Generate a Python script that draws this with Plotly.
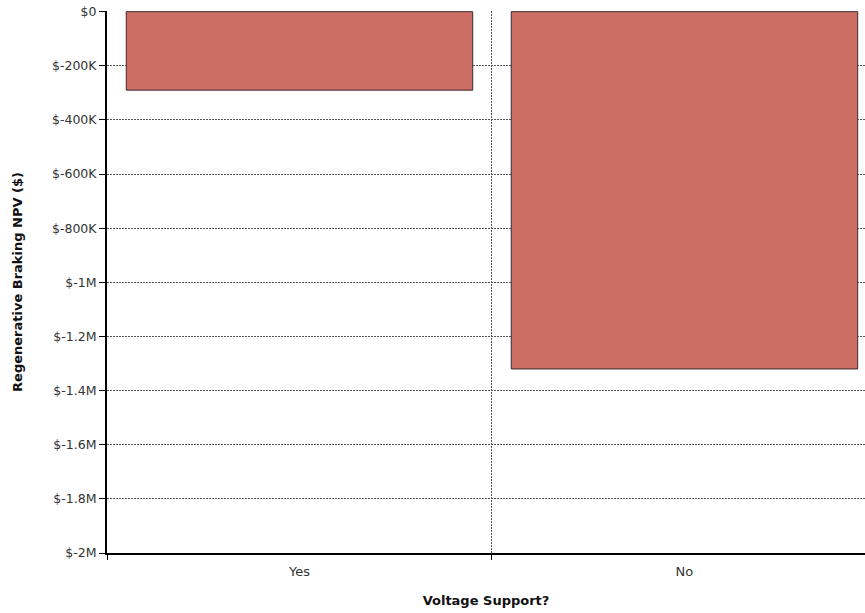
import plotly.graph_objects as go

categories = ["Yes", "No"]
npv_values = [-290000, -1320000]
tick_values = [0, -200000, -400000, -600000, -800000, -1000000, -1200000, -1400000, -1600000, -1800000, -2000000]
tick_labels = ["$0", "$-200K", "$-400K", "$-600K", "$-800K", "$-1M", "$-1.2M", "$-1.4M", "$-1.6M", "$-1.8M", "$-2M"]

grid_dash = "2px,1px"

fig = go.Figure()
fig.add_trace(go.Bar(
    x=categories, y=npv_values, width=0.9,
    marker=dict(color="#CC6E63", line=dict(color="#3a2a2a", width=1)),
    showlegend=False,
))

fig.update_layout(
    width=865, height=613,
    margin=dict(l=107, r=0, t=11, b=60),
    paper_bgcolor="white", plot_bgcolor="white",
    font=dict(family="DejaVu Sans, sans-serif", size=12, color="#333"),
    xaxis=dict(
        type="category", range=[-0.5, 1.469], automargin=False,
        tickson="boundaries", ticks="outside", ticklen=5, tickcolor="black", tickwidth=1,
        ticklabelstandoff=5,
        showgrid=True, gridcolor="#555", griddash=grid_dash, gridwidth=1,
        showline=True, linecolor="black", linewidth=2,
        tickfont=dict(size=13, color="#333"),
        title=dict(text="<b>Voltage Support?</b>", font=dict(size=13, color="#111"), standoff=18),
    ),
    yaxis=dict(
        range=[-2000000, 2500], tickvals=tick_values, ticktext=tick_labels, automargin=False,
        ticklabeloverflow="allow",
        ticks="outside", ticklen=6, tickcolor="black", tickwidth=1,
        showgrid=True, gridcolor="#555", griddash=grid_dash, gridwidth=1,
        showline=True, linecolor="black", linewidth=2, zeroline=False,
        tickfont=dict(size=12.5, color="#333"),
        title=dict(text="<b>Regenerative Braking NPV ($)</b>", font=dict(size=13, color="#111"), standoff=26),
    ),
    bargap=0.1,
)

fig.write_html(
    "out.html",
    config={"displayModeBar": False},
    post_script="document.body.style.margin='0';document.body.style.overflow='hidden';",
)
